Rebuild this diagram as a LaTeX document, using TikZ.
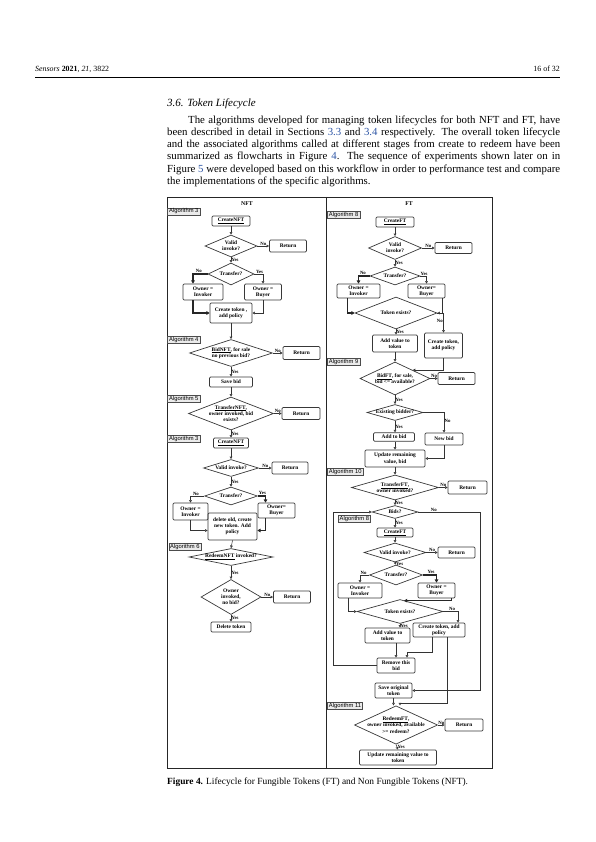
\documentclass[tikz,border=0pt]{standalone}
\usepackage{fontspec}
\setmainfont{Liberation Serif}
\newfontfamily\algsf{Liberation Sans}
\usepackage{xcolor}
\usetikzlibrary{positioning,arrows.meta,shapes.geometric}
\definecolor{linkblue}{RGB}{45,85,165}
\newcommand\flowfont{\fontsize{5.4}{6.2}\selectfont\bfseries}
\newcommand\algfont{\algsf\fontsize{5.8}{6}\selectfont}
\newcommand\ynfont{\fontsize{4.8}{5}\selectfont\bfseries}
\tikzset{
  box/.style={draw=black!78, line width=0.7pt, rounded corners=1.2pt, align=center, inner sep=0.5pt, font=\flowfont},
  dec/.style={diamond, draw=black!78, line width=0.7pt, align=center, inner sep=-1.5pt, font=\flowfont},
  sz/.style 2 args={minimum width=#1pt, minimum height=#2pt},
  dsz/.code 2 args={\pgfmathsetmacro\dasp{#1/#2}%
    \edef\dtmp{\noexpand\pgfkeysalso{minimum width=#1pt, minimum height=#2pt, aspect=\dasp}}\dtmp},
  alg/.style={draw=black!70, fill=black!8, line width=0.45pt, font=\algfont, inner xsep=1.5pt, inner ysep=0.6pt, anchor=west},
  yn/.style={font=\ynfont, inner sep=0.4pt},
  arr/.style={draw=black!80, line width=0.55pt, -{Triangle[open, length=2.6pt, width=2.8pt]}},
  thk/.style={draw=black!85, line width=1.2pt, -{Triangle[length=3.2pt, width=3.6pt]}},
}
\begin{document}
\begin{tikzpicture}[x=1pt, y=-1pt]
\useasboundingbox (0,0) rectangle (595,842);
% page head
\node[anchor=base west, inner sep=0, font=\fontsize{7.9}{9}\selectfont] (hdl) at (35,72) {\textit{Sensors} \textbf{2021}, \textit{21}, 3822};
\node[anchor=base east, inner sep=0, font=\fontsize{7.9}{9}\selectfont] (hdr) at (560,72) {16 of 32};
\draw[line width=0.7pt] (35,77) -- (560,77);
\node[anchor=base west, inner sep=0, font=\fontsize{11}{12}\selectfont\itshape] (sec) at (167,107) {3.6. Token Lifecycle};
\node[anchor=north west, inner sep=0, text width=393pt, align=justify, font=\fontsize{10.8}{12.2}\selectfont] (para) at (167,115.5)
  {\hspace*{21pt}The algorithms developed for managing token lifecycles for both NFT and FT, have\linebreak
   been described in detail in Sections \textcolor{linkblue}{3.3} and \textcolor{linkblue}{3.4} respectively. The overall token lifecycle\linebreak
   and the associated algorithms called at different stages from create to redeem have been\linebreak
   summarized as flowcharts in Figure \textcolor{linkblue}{4}. The sequence of experiments shown later on in\linebreak
   Figure \textcolor{linkblue}{5} were developed based on this workflow in order to performance test and compare\linebreak
   the implementations of the specific algorithms.};
% frame
\draw[line width=0.8pt, black!85] (167,197) rectangle (492,768);
\draw[line width=0.8pt, black!85] (326.5,197) -- (326.5,768);
\node[font=\fontsize{5.8}{6}\selectfont\bfseries] (tNFT) at (247,204) {NFT};
\node[font=\fontsize{5.8}{6}\selectfont\bfseries] (tFT) at (409,204) {FT};

% NFT column
\node[alg] (a3) at (167.4,211.5) {Algorithm 3};
\node[box, sz={38}{10}] (nCreate) at (231,221) {\underline{CreateNFT}};
\node[dec, dsz={52}{22}] (nValid) at (231,246) {Valid\\invoke?};
\node[box, sz={37}{12}] (nRet1) at (288,246) {Return};
\node[dec, dsz={46}{22}] (nTrans) at (231,274) {Transfer?};
\node[box, sz={40}{16}] (nInv) at (203,292) {Owner =\\Invoker};
\node[box, sz={37}{16}] (nBuy) at (263,292) {Owner =\\Buyer};
\node[box, sz={42}{20}] (nTok) at (231,313) {Create token ,\\add policy};
\node[alg] (a4) at (167.4,340) {Algorithm 4};
\node[dec, dsz={83}{27}] (nBid) at (231,353) {\underline{BidNFT}, for sale\\no previous bid?};
\node[box, sz={37}{13}] (nRet2) at (301.5,353) {Return};
\node[box, sz={43}{10}] (nSave) at (231,382) {Save bid};
\node[alg] (a5) at (167.4,398.5) {Algorithm 5};
\node[dec, dsz={85}{33}] (nTrNFT) at (231,413.5) {\underline{TransferNFT},\\owner invoked, bid\\exists?};
\node[box, sz={38}{12}] (nRet3) at (301,413.5) {Return};
\node[alg] (a3b) at (167.4,438.5) {Algorithm 3};
\node[box, sz={35}{10}] (nCreate2) at (231,443) {\underline{CreateNFT}};
\node[dec, dsz={55}{17}] (nValid2) at (231,468) {Valid invoke?};
\node[box, sz={36}{12}] (nRet4) at (290,468) {Return};
\node[dec, dsz={53}{18}] (nTrans2) at (231,496) {Transfer?};
\node[box, sz={35}{17}] (nInv2) at (190.5,511.5) {Owner =\\Invoker};
\node[box, sz={37}{15}] (nBuy2) at (276.5,510.5) {Owner=\\Buyer};
\node[box, sz={49}{27}] (nDel) at (232.5,526.5) {delete old, create\\new token. Add\\policy};
\node[alg] (a6) at (168.5,546.5) {Algorithm 6};
\node[dec, dsz={84}{17}] (nRed) at (231,557) {\underline{RedeemNFT} invoked?};
\node[dec, dsz={60}{35}] (nOwn) at (231,597) {Owner\\invoked,\\no bid?};
\node[box, sz={37}{12}] (nRet5) at (292,597) {Return};
\node[box, sz={40}{10}] (nDelTok) at (231,627) {Delete token};

\draw[arr] (nCreate.south) -- (nValid.north);
\draw[arr] (nValid.east) -- node[yn, above] (l1) {No} (nRet1.west);
\draw[arr] (nValid.south) -- node[yn, right] (l2) {Yes} (nTrans.north);
\draw[thk] (nTrans.west) -| node[yn, above, pos=0.3] (l3) {No} ([xshift=-10pt]nInv.north);
\draw[arr] (nTrans.east) -| node[yn, above, pos=0.3] (l4) {Yes} (nBuy.north);
\draw[thk] ([xshift=-10pt]nInv.south) |- (nTok.west);
\draw[arr] (nBuy.south) |- (nTok.east);
\draw[arr] (nTok.south) -- (nBid.north);
\draw[arr] (nBid.east) -- node[yn, above] (l5) {No} (nRet2.west);
\draw[arr] (nBid.south) -- node[yn, right] (l6) {Yes} (nSave.north);
\draw[arr] (nSave.south) -- (nTrNFT.north);
\draw[arr] (nTrNFT.east) -- node[yn, above] (l7) {No} (nRet3.west);
\draw[arr] (nTrNFT.south) -- node[yn, right] (l8) {Yes} (nCreate2.north);
\draw[arr] (nCreate2.south) -- (nValid2.north);
\draw[arr] (nValid2.east) -- node[yn, above] (l9) {No} (nRet4.west);
\draw[arr] (nValid2.south) -- node[yn, right] (l10) {Yes} (nTrans2.north);
\draw[arr] (nTrans2.west) -| node[yn, above, pos=0.3] (l11) {No} (nInv2.north);
\draw[thk] (nTrans2.east) -| node[yn, above, pos=0.3] (l12) {Yes} ([xshift=-11pt]nBuy2.north);
\draw[arr] (nInv2.south) |- ([yshift=-4pt]nDel.west);
\draw[thk] ([xshift=-11pt]nBuy2.south) |- ([yshift=-4pt]nDel.east);
\draw[arr] (nDel.south) -- (nRed.north);
\draw[arr] (nRed.south) -- node[yn, right] (l13) {Yes} (nOwn.north);
\draw[arr] (nOwn.east) -- node[yn, above] (l14) {No} (nRet5.west);
\draw[arr] (nOwn.south) -- node[yn, right] (l15) {Yes} (nDelTok.north);

% FT column
\node[alg] (b8) at (327.2,215) {Algorithm 8};
\node[box, sz={38}{10}] (fCreate) at (395,222) {\underline{CreateFT}};
\node[dec, dsz={53}{23}] (fValid) at (395,248) {Valid\\invoke?};
\node[box, sz={37}{11}] (fRet1) at (453.5,248) {Return};
\node[dec, dsz={50}{18}] (fTrans) at (395,276) {Transfer?};
\node[box, sz={43}{14}] (fInv) at (358.5,291) {Owner =\\Invoker};
\node[box, sz={37}{14}] (fBuy) at (426.5,291) {Owner=\\Buyer};
\node[dec, dsz={82}{32}] (fExists) at (396,313) {Token exists?};
\node[box, sz={45}{17}] (fAddVal) at (395,343.5) {Add value to\\token};
\node[box, sz={38}{25}] (fTok) at (443.5,345.5) {Create token,\\add policy};
\node[alg] (b9) at (327.2,361.5) {Algorithm 9};
\node[dec, dsz={70}{33}] (fBid) at (395,378.5) {\underline{BidFT}, for sale,\\bid <= available?};
\node[box, sz={37}{12}] (fRet2) at (456.5,378.5) {Return};
\node[dec, dsz={56}{16}] (fEx2) at (395,412.5) {Existing bidder?};
\node[box, sz={41}{8.5}] (fAddBid) at (394,437) {Add to bid};
\node[box, sz={38}{12}] (fNew) at (444,439) {New bid};
\node[box, sz={60}{17}] (fUpd) at (395,458.5) {Update remaining\\value, bid};
\node[alg] (b10) at (327.2,471.5) {Algorithm 10};
\node[dec, dsz={87}{25}] (fTrFT) at (395,487.5) {\underline{TransferFT},\\owner invoked?};
\node[box, sz={39}{13}] (fRet3) at (467.5,487.5) {Return};
\node[dec, dsz={46}{13}] (fBids) at (395,512) {Bids?};
\node[alg] (b8b) at (338,518.5) {Algorithm 8};
\node[box, sz={36}{9}] (fCreate2) at (395,532.5) {\underline{CreateFT}};
\node[dec, dsz={62}{19}] (fValid2) at (395,552.5) {Valid invoke?};
\node[box, sz={37}{11}] (fRet4) at (456.5,552.5) {Return};
\node[dec, dsz={53}{20}] (fTrans3) at (396,575) {Transfer?};
\node[box, sz={44}{15}] (fInv2) at (360,590.5) {Owner =\\Invoker};
\node[box, sz={37}{15}] (fBuy2) at (436.5,590.5) {Owner =\\Buyer};
\node[dec, dsz={86}{24}] (fExists2) at (400,611.5) {Token exists?};
\node[box, sz={45}{15}] (fAddVal2) at (387.5,635.5) {Add value to\\token};
\node[box, sz={52}{14}] (fTok2) at (439,630) {Create token, add\\policy};
\node[box, sz={38}{15}] (fRemove) at (396,665.5) {Remove this\\bid};
\node[box, sz={37}{15}] (fSave) at (393.5,690.5) {Save original\\token};
\node[alg] (b11) at (327.2,705.5) {Algorithm 11};
\node[dec, dsz={78}{36}] (fRedeem) at (396,725) {\underline{RedeemFT},\\owner invoked, available\\>= redeem?};
\node[box, sz={38}{12}] (fRet5) at (464,725) {Return};
\node[box, sz={77}{15}] (fUpdTok) at (398,757.5) {Update remaining value to\\token};

\draw[arr] (fCreate.south) -- (fValid.north);
\draw[arr] (fValid.east) -- node[yn, above] (m1) {No} (fRet1.west);
\draw[arr] (fValid.south) -- node[yn, right] (m2) {Yes} (fTrans.north);
\draw[thk] (fTrans.west) -| node[yn, above, pos=0.3] (m3) {No} (fInv.north);
\draw[arr] (fTrans.east) -| node[yn, above, pos=0.3] (m4) {Yes} (fBuy.north);
\draw[thk] ([xshift=-11pt]fInv.south) |- (fExists.west);
\draw[arr] ([xshift=16pt]fBuy.south) |- (fExists.east);
\draw[arr] (fExists.east) -| node[yn, left, pos=0.7] (m5) {No} (fTok.north);
\draw[arr] (fExists.south) -- node[yn, right] (m6) {Yes} (fExists.south |- fAddVal.north);
\draw[arr] (fAddVal.south) -- (fBid.north);
\draw[arr] (fTok.south) |- (fBid.north east);
\draw[arr] (fBid.east) -- node[yn, above] (m7) {No} (fRet2.west);
\draw[arr] (fBid.south) -- node[yn, right] (m8) {Yes} (fEx2.north);
\draw[arr] (fEx2.east) -| node[yn, right, pos=0.7] (m9) {No} (fNew.north);
\draw[arr] (fEx2.south) -- node[yn, right] (m10) {Yes} (fEx2.south |- fAddBid.north);
\draw[arr] (fAddBid.south -| fUpd.north) -- (fUpd.north);
\draw[arr] (fNew.south) |- (fUpd.east);
\draw[arr] (fUpd.south) -- (fTrFT.north);
\draw[arr] (fTrFT.east) -- node[yn, above] (m11) {No} (fRet3.west);
\draw[arr] (fTrFT.south) -- node[yn, right] (m12) {Yes} (fBids.north);
\draw[arr] (fBids.east) -- node[yn, above, pos=0.25] (m13) {No} ++(62,0) |- (fSave.east);
\draw[arr] (fRemove.west) -- ++(-43,0) |- (fBids.west);
\draw[arr] (fBids.south) -- node[yn, right] (m14) {Yes} (fCreate2.north);
\draw[arr] (fCreate2.south) -- (fValid2.north);
\draw[arr] (fValid2.east) -- node[yn, above] (m15) {No} (fRet4.west);
\draw[arr] (fValid2.south) -- node[yn, right] (m16) {Yes} (fTrans3.north);
\draw[arr] (fTrans3.west) -| node[yn, above, pos=0.3] (m17) {No} (fInv2.north);
\draw[thk] (fTrans3.east) -| node[yn, above, pos=0.3] (m18) {Yes} (fBuy2.north);
\draw[arr] ([xshift=-12pt]fInv2.south) |- (fExists2.west);
\draw[thk] ([xshift=15pt]fBuy2.south) |- ([xshift=4pt, yshift=-1.5pt]fExists2.north);
\draw[arr] (fExists2.east) -| node[yn, above, pos=0.3] (m19) {No} ([xshift=19pt]fTok2.north);
\draw[arr] (fExists2.south) -- node[yn, right] (m20) {Yes} (fExists2.south |- fAddVal2.north);
\draw[arr] (fAddVal2.south -| fRemove.north) -- (fRemove.north);
\draw[arr] ([xshift=-7pt]fTok2.south) -- ++(0,15) -| ([xshift=11pt]fRemove.north);
\draw[arr] ([xshift=8pt]fTok2.south) -- ++(0,66) -| ([xshift=4pt]fRedeem.north);
\draw[arr] (fSave.south) -- (fSave.south |- fRedeem.north);
\draw[arr] (fRedeem.east) -- node[yn, above] (m21) {No} (fRet5.west);
\draw[arr] (fRedeem.south) -- node[yn, right] (m22) {Yes} (fUpdTok.north);

% caption
\node[anchor=base west, inner sep=0, font=\fontsize{9.4}{11}\selectfont] (cap) at (167,784) {\textbf{Figure 4.} Lifecycle for Fungible Tokens (FT) and Non Fungible Tokens (NFT).};
\end{tikzpicture}
\end{document}
